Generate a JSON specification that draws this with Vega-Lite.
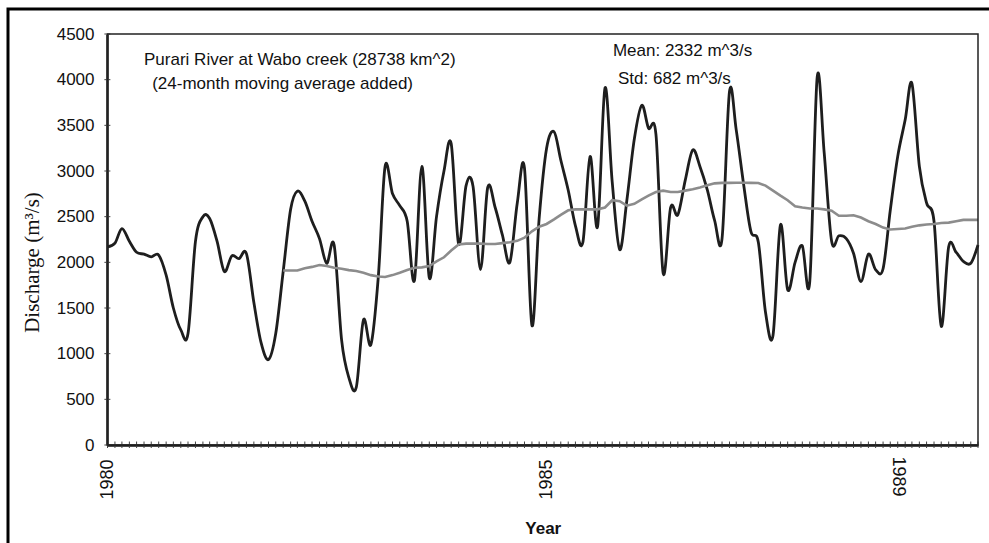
{
  "$schema": "https://vega.github.io/schema/vega-lite/v6.json",
  "width": 987,
  "height": 540,
  "autosize": "none",
  "padding": {"left": 8, "top": 9, "right": -6, "bottom": -6},
  "background": "white",
  "config": {
    "view": {"stroke": "#000", "strokeWidth": 3},
    "axis": {"grid": false}
  },
  "datasets": {
    "flow": [
      {"date": "1980-01-01", "discharge": 2170, "ma": null},
      {"date": "1980-02-01", "discharge": 2210, "ma": null},
      {"date": "1980-03-01", "discharge": 2370, "ma": null},
      {"date": "1980-04-01", "discharge": 2230, "ma": null},
      {"date": "1980-05-01", "discharge": 2110, "ma": null},
      {"date": "1980-06-01", "discharge": 2090, "ma": null},
      {"date": "1980-07-01", "discharge": 2060, "ma": null},
      {"date": "1980-08-01", "discharge": 2080, "ma": null},
      {"date": "1980-09-01", "discharge": 1860, "ma": null},
      {"date": "1980-10-01", "discharge": 1500, "ma": null},
      {"date": "1980-11-01", "discharge": 1260, "ma": null},
      {"date": "1980-12-01", "discharge": 1220, "ma": null},
      {"date": "1981-01-01", "discharge": 2230, "ma": null},
      {"date": "1981-02-01", "discharge": 2500, "ma": null},
      {"date": "1981-03-01", "discharge": 2480, "ma": null},
      {"date": "1981-04-01", "discharge": 2230, "ma": null},
      {"date": "1981-05-01", "discharge": 1900, "ma": null},
      {"date": "1981-06-01", "discharge": 2070, "ma": null},
      {"date": "1981-07-01", "discharge": 2040, "ma": null},
      {"date": "1981-08-01", "discharge": 2095, "ma": null},
      {"date": "1981-09-01", "discharge": 1560, "ma": null},
      {"date": "1981-10-01", "discharge": 1120, "ma": null},
      {"date": "1981-11-01", "discharge": 935, "ma": null},
      {"date": "1981-12-01", "discharge": 1220, "ma": null},
      {"date": "1982-01-01", "discharge": 1900, "ma": 1910},
      {"date": "1982-02-01", "discharge": 2580, "ma": 1910},
      {"date": "1982-03-01", "discharge": 2780, "ma": 1910},
      {"date": "1982-04-01", "discharge": 2670, "ma": 1935},
      {"date": "1982-05-01", "discharge": 2450, "ma": 1950},
      {"date": "1982-06-01", "discharge": 2260, "ma": 1970},
      {"date": "1982-07-01", "discharge": 1990, "ma": 1960},
      {"date": "1982-08-01", "discharge": 2190, "ma": 1940},
      {"date": "1982-09-01", "discharge": 1150, "ma": 1930},
      {"date": "1982-10-01", "discharge": 740, "ma": 1915},
      {"date": "1982-11-01", "discharge": 630, "ma": 1905},
      {"date": "1982-12-01", "discharge": 1370, "ma": 1885},
      {"date": "1983-01-01", "discharge": 1100, "ma": 1860},
      {"date": "1983-02-01", "discharge": 1850, "ma": 1845},
      {"date": "1983-03-01", "discharge": 3050, "ma": 1840},
      {"date": "1983-04-01", "discharge": 2750, "ma": 1860},
      {"date": "1983-05-01", "discharge": 2620, "ma": 1885},
      {"date": "1983-06-01", "discharge": 2450, "ma": 1915},
      {"date": "1983-07-01", "discharge": 1800, "ma": 1940},
      {"date": "1983-08-01", "discharge": 3050, "ma": 1945},
      {"date": "1983-09-01", "discharge": 1830, "ma": 1960},
      {"date": "1983-10-01", "discharge": 2500, "ma": 2010},
      {"date": "1983-11-01", "discharge": 3000, "ma": 2055},
      {"date": "1983-12-01", "discharge": 3300, "ma": 2130},
      {"date": "1984-01-01", "discharge": 2200, "ma": 2195},
      {"date": "1984-02-01", "discharge": 2840, "ma": 2205},
      {"date": "1984-03-01", "discharge": 2830, "ma": 2205},
      {"date": "1984-04-01", "discharge": 1920, "ma": 2205},
      {"date": "1984-05-01", "discharge": 2820, "ma": 2200},
      {"date": "1984-06-01", "discharge": 2600, "ma": 2200},
      {"date": "1984-07-01", "discharge": 2300, "ma": 2210},
      {"date": "1984-08-01", "discharge": 2000, "ma": 2220},
      {"date": "1984-09-01", "discharge": 2650, "ma": 2235},
      {"date": "1984-10-01", "discharge": 3030, "ma": 2270},
      {"date": "1984-11-01", "discharge": 1310, "ma": 2340},
      {"date": "1984-12-01", "discharge": 2480, "ma": 2390},
      {"date": "1985-01-01", "discharge": 3250, "ma": 2420},
      {"date": "1985-02-01", "discharge": 3430, "ma": 2470},
      {"date": "1985-03-01", "discharge": 3120, "ma": 2520},
      {"date": "1985-04-01", "discharge": 2790, "ma": 2570},
      {"date": "1985-05-01", "discharge": 2400, "ma": 2580},
      {"date": "1985-06-01", "discharge": 2220, "ma": 2580},
      {"date": "1985-07-01", "discharge": 3160, "ma": 2580},
      {"date": "1985-08-01", "discharge": 2390, "ma": 2580},
      {"date": "1985-09-01", "discharge": 3910, "ma": 2600},
      {"date": "1985-10-01", "discharge": 2880, "ma": 2680},
      {"date": "1985-11-01", "discharge": 2140, "ma": 2670},
      {"date": "1985-12-01", "discharge": 2680, "ma": 2620},
      {"date": "1986-01-01", "discharge": 3350, "ma": 2640},
      {"date": "1986-02-01", "discharge": 3720, "ma": 2690},
      {"date": "1986-03-01", "discharge": 3470, "ma": 2730},
      {"date": "1986-04-01", "discharge": 3400, "ma": 2770},
      {"date": "1986-05-01", "discharge": 1880, "ma": 2785},
      {"date": "1986-06-01", "discharge": 2600, "ma": 2770},
      {"date": "1986-07-01", "discharge": 2520, "ma": 2770},
      {"date": "1986-08-01", "discharge": 2900, "ma": 2785},
      {"date": "1986-09-01", "discharge": 3230, "ma": 2800},
      {"date": "1986-10-01", "discharge": 3050, "ma": 2820},
      {"date": "1986-11-01", "discharge": 2790, "ma": 2845},
      {"date": "1986-12-01", "discharge": 2460, "ma": 2865},
      {"date": "1987-01-01", "discharge": 2260, "ma": 2870},
      {"date": "1987-02-01", "discharge": 3870, "ma": 2870},
      {"date": "1987-03-01", "discharge": 3450, "ma": 2872},
      {"date": "1987-04-01", "discharge": 2850, "ma": 2872},
      {"date": "1987-05-01", "discharge": 2340, "ma": 2870},
      {"date": "1987-06-01", "discharge": 2220, "ma": 2868},
      {"date": "1987-07-01", "discharge": 1450, "ma": 2840},
      {"date": "1987-08-01", "discharge": 1200, "ma": 2785},
      {"date": "1987-09-01", "discharge": 2410, "ma": 2730},
      {"date": "1987-10-01", "discharge": 1700, "ma": 2680},
      {"date": "1987-11-01", "discharge": 2000, "ma": 2615},
      {"date": "1987-12-01", "discharge": 2180, "ma": 2600},
      {"date": "1988-01-01", "discharge": 1790, "ma": 2590},
      {"date": "1988-02-01", "discharge": 4030, "ma": 2590},
      {"date": "1988-03-01", "discharge": 3200, "ma": 2580},
      {"date": "1988-04-01", "discharge": 2230, "ma": 2565},
      {"date": "1988-05-01", "discharge": 2290, "ma": 2510},
      {"date": "1988-06-01", "discharge": 2260, "ma": 2510},
      {"date": "1988-07-01", "discharge": 2100, "ma": 2515},
      {"date": "1988-08-01", "discharge": 1790, "ma": 2490},
      {"date": "1988-09-01", "discharge": 2090, "ma": 2450},
      {"date": "1988-10-01", "discharge": 1920, "ma": 2420},
      {"date": "1988-11-01", "discharge": 1930, "ma": 2380},
      {"date": "1988-12-01", "discharge": 2570, "ma": 2360},
      {"date": "1989-01-01", "discharge": 3160, "ma": 2365},
      {"date": "1989-02-01", "discharge": 3560, "ma": 2370},
      {"date": "1989-03-01", "discharge": 3960, "ma": 2390},
      {"date": "1989-04-01", "discharge": 3050, "ma": 2405},
      {"date": "1989-05-01", "discharge": 2650, "ma": 2415},
      {"date": "1989-06-01", "discharge": 2450, "ma": 2420},
      {"date": "1989-07-01", "discharge": 1300, "ma": 2430},
      {"date": "1989-08-01", "discharge": 2170, "ma": 2435},
      {"date": "1989-09-01", "discharge": 2110, "ma": 2450},
      {"date": "1989-10-01", "discharge": 2010, "ma": 2465},
      {"date": "1989-11-01", "discharge": 1990, "ma": 2465},
      {"date": "1989-12-01", "discharge": 2190, "ma": 2465}
    ],
    "notes": [
      {"label": "Purari River at Wabo creek (28738 km^2)", "date": "1980-06-01", "level": 4160},
      {"label": "(24-month moving average added)", "date": "1980-07-05", "level": 3900},
      {"label": "Mean: 2332 m^3/s", "date": "1985-10-04", "level": 4260},
      {"label": "Std: 682 m^3/s", "date": "1985-10-25", "level": 3955}
    ],
    "yticks": [
      {"v": 0}, {"v": 500}, {"v": 1000}, {"v": 1500}, {"v": 2000},
      {"v": 2500}, {"v": 3000}, {"v": 3500}, {"v": 4000}, {"v": 4500}
    ]
  },
  "layer": [
    {
      "data": {"name": "flow"},
      "mark": {"type": "line", "interpolate": "cardinal", "color": "#1e1e1e", "strokeWidth": 2.8},
      "encoding": {
        "x": {
          "field": "date", "type": "temporal",
          "scale": {"type": "utc", "domain": [{"year": 1980, "month": 1, "date": 1, "utc": true}, {"year": 1989, "month": 12, "date": 1, "utc": true}], "range": [99.5, 970]},
          "axis": {
            "orient": "bottom", "offset": -104, "title": "Year",
            "titleFont": "Liberation Sans", "titleFontSize": 17, "titleFontWeight": "bold", "titleColor": "#111",
            "titleY": 88, "titleBaseline": "alphabetic",
            "tickCount": {"interval": "month", "step": 1},
            "labelExpr": "utcmonth(datum.value) === 0 && indexof([1980, 1985], utcyear(datum.value)) >= 0 ? utcFormat(datum.value, '%Y') : ''",
            "labelAngle": -90, "labelOverlap": false, "labelFlush": false,
            "labelFont": "Liberation Sans", "labelFontSize": 18, "labelColor": "#111", "labelPadding": 14,
            "ticks": false,
            "domainColor": "#111", "domainWidth": 2.5
          }
        },
        "y": {
          "field": "discharge", "type": "quantitative",
          "scale": {"domain": [0, 4500], "range": [436, 25], "nice": false, "zero": false},
          "axis": {
            "orient": "left", "offset": -99, "title": "Discharge (m³/s)",
            "titleFont": "Liberation Serif", "titleFontSize": 21, "titleFontWeight": "normal", "titleColor": "#111",
            "titleX": -75, "titleY": 253, "titleBaseline": "middle", "titleAngle": 270,
            "values": [0, 500, 1000, 1500, 2000, 2500, 3000, 3500, 4000, 4500], "format": "d",
            "labelFont": "Liberation Sans", "labelFontSize": 17, "labelColor": "#111", "labelPadding": 13,
            "ticks": false,
            "domainColor": "#111", "domainWidth": 2.5
          }
        }
      }
    },
    {
      "data": {"name": "flow"},
      "mark": {"type": "line", "color": "#8c8c8c", "strokeWidth": 2.6},
      "encoding": {
        "x": {"field": "date", "type": "temporal"},
        "y": {"field": "ma", "type": "quantitative"}
      }
    },
    {
      "data": {"name": "flow"},
      "mark": {"type": "rule", "color": "#444", "strokeWidth": 1},
      "encoding": {
        "x": {"field": "date", "type": "temporal"},
        "y": {"datum": -33, "type": "quantitative"},
        "y2": {"datum": 38}
      }
    },
    {
      "data": {"name": "yticks"},
      "mark": {"type": "rule", "color": "#444", "strokeWidth": 1},
      "encoding": {
        "y": {"field": "v", "type": "quantitative"},
        "x": {"datum": {"year": 1979, "month": 12, "date": 19, "utc": true}, "type": "temporal"},
        "x2": {"datum": {"year": 1980, "month": 1, "date": 13, "utc": true}}
      }
    },
    {
      "data": {"values": [{}]},
      "mark": {"type": "rect", "filled": false, "stroke": "#222", "strokeWidth": 1.5},
      "encoding": {
        "x": {"datum": {"year": 1980, "month": 1, "date": 1, "utc": true}, "type": "temporal"},
        "x2": {"datum": {"year": 1989, "month": 12, "date": 1, "utc": true}},
        "y": {"datum": 0, "type": "quantitative"},
        "y2": {"datum": 4500}
      }
    },
    {
      "data": {"name": "notes"},
      "mark": {"type": "text", "align": "left", "baseline": "alphabetic", "font": "Liberation Sans", "fontSize": 17, "color": "#111"},
      "encoding": {
        "x": {"field": "date", "type": "temporal"},
        "y": {"field": "level", "type": "quantitative"},
        "text": {"field": "label", "type": "nominal"}
      }
    },
    {
      "data": {"values": [{"label": "1989", "date": "1989-01-01"}]},
      "mark": {"type": "text", "align": "left", "baseline": "middle", "angle": 90, "font": "Liberation Sans", "fontSize": 18, "color": "#111"},
      "encoding": {
        "x": {"field": "date", "type": "temporal"},
        "y": {"datum": -125, "type": "quantitative"},
        "text": {"field": "label", "type": "nominal"}
      }
    }
  ]
}
